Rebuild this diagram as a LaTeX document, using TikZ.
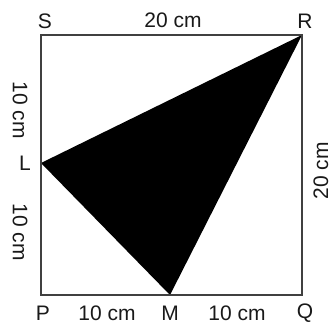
\documentclass[tikz,border=0pt]{standalone}
\usepackage{fontspec}
\setmainfont{Liberation Sans}
\begin{document}
\begin{tikzpicture}[x=1pt,y=-1pt,
  lbl/.style={font=\fontsize{21}{21}\selectfont, inner sep=0pt, text=black!90},
  edge/.style={draw=black!75, line width=1.6pt, line join=miter}]
\useasboundingbox (0,0) rectangle (332,325);
\coordinate (S) at (41,35);
\coordinate (R) at (302,35);
\coordinate (P) at (41,295);
\coordinate (Q) at (302,295);
\coordinate (L) at (41,163);
\coordinate (M) at (170,295);
\fill[black] (L) -- (R) -- (M) -- cycle;
\draw[edge] (S) -- (R) -- (Q) -- (P) -- cycle;
\node[lbl] (tS) at (45,21) {S};
\node[lbl] (tR) at (305,21) {R};
\node[lbl] (tTop) at (173,20) {20 cm};
\node[lbl] (tP) at (43,313) {P};
\node[lbl] (tPM) at (107,313) {10 cm};
\node[lbl] (tM) at (170,313) {M};
\node[lbl] (tMQ) at (237,313) {10 cm};
\node[lbl] (tQ) at (305,313) {Q};
\node[lbl] (tL) at (25,163) {L};
\node[lbl, rotate=-90] (tSL) at (20,110) {10 cm};
\node[lbl, rotate=-90] (tLP) at (20,232) {10 cm};
\node[lbl, rotate=90] (tRQ) at (321,171) {20 cm};
\end{tikzpicture}
\end{document}
